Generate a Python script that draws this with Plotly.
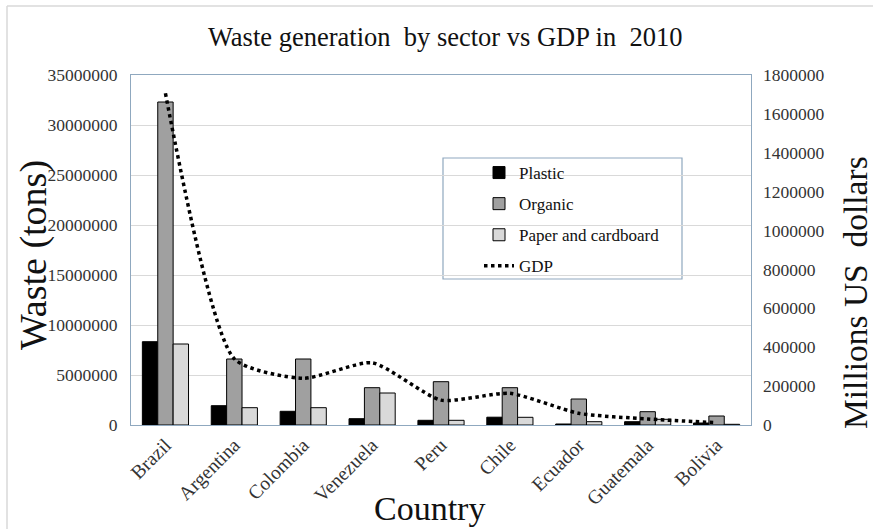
import plotly.graph_objects as go

countries = ["Brazil", "Argentina", "Colombia", "Venezuela", "Peru", "Chile", "Ecuador", "Guatemala", "Bolivia"]
plastic = [8330000, 1930000, 1370000, 630000, 470000, 780000, 100000, 330000, 200000]
organic = [32300000, 6600000, 6600000, 3730000, 4330000, 3730000, 2600000, 1330000, 900000]
paper = [8100000, 1730000, 1730000, 3200000, 470000, 770000, 330000, 570000, 70000]
gdp = [1706000, 340000, 240000, 320000, 128000, 163000, 60000, 31000, 12000]

W, H = 873, 529
L, R, T, B = 131, 122, 75, 104
PW, PH = W - L - R, H - T - B

def px(x):
    return (x - L) / PW

def py(y):
    return (H - B - y) / PH

SERIF = "Liberation Serif, Times New Roman, serif"

fig = go.Figure()
fig.add_trace(go.Bar(x=countries, y=plastic, name="Plastic", legendgroup="a",
                     marker=dict(color="#000000", line=dict(color="#000000", width=1))))
fig.add_trace(go.Bar(x=countries, y=organic, name="Organic", legendgroup="b",
                     marker=dict(color="#a0a0a0", line=dict(color="#000000", width=1))))
fig.add_trace(go.Bar(x=countries, y=paper, name="Paper and cardboard", legendgroup="c",
                     marker=dict(color="#d9d9d9", line=dict(color="#000000", width=1))))
fig.add_trace(go.Scatter(x=countries, y=gdp, name="GDP", yaxis="y2", mode="lines", legendgroup="d",
                         line=dict(color="#000000", width=3.5, dash="dot", shape="spline", smoothing=0.6)))

frame_color = "#8fa8bf"
title_font = dict(family=SERIF, color="#111111")
fig.update_layout(
    width=W, height=H,
    margin=dict(l=L, r=R, t=T, b=B, autoexpand=False),
    paper_bgcolor="white", plot_bgcolor="white",
    barmode="group", bargap=0.33, bargroupgap=0,
    font=dict(family=SERIF, color="#333333", size=17),
    title=dict(text="Waste generation  by sector vs GDP in  2010", x=0.51, xanchor="center",
               y=1 - 37 / H, yanchor="middle", font=dict(size=26.5, **title_font)),
    xaxis=dict(tickangle=-45, tickfont=dict(size=19.5, family=SERIF), showline=True, linecolor=frame_color,
               mirror=True, ticks="", automargin=False),
    yaxis=dict(range=[0, 35000000], dtick=5000000, tickformat="d", showgrid=True, gridcolor="#d9d9d9",
               showline=True, linecolor=frame_color, mirror=True, ticks="", zeroline=False, automargin=False,
               tickfont=dict(size=17.5, family=SERIF), ticklabelstandoff=9),
    yaxis2=dict(range=[0, 1800000], dtick=200000, tickformat="d", overlaying="y", side="right",
                showgrid=False, zeroline=False, showline=False, ticks="", automargin=False,
                tickfont=dict(size=17.5, family=SERIF), ticklabelstandoff=11),
    legend=dict(x=px(479), y=py(155), xanchor="left", yanchor="top", bgcolor="rgba(0,0,0,0)",
                borderwidth=0, font=dict(size=17, family=SERIF, color="#111111"), tracegroupgap=6),
    annotations=[
        dict(text="Country", xref="paper", yref="paper", x=px(429), y=py(508), xanchor="center",
             yanchor="middle", showarrow=False, font=dict(size=34, **title_font)),
        dict(text="Waste (tons)", xref="paper", yref="paper", x=px(34), y=py(255), xanchor="center",
             yanchor="middle", textangle=-90, showarrow=False, font=dict(size=38, **title_font)),
        dict(text="Millions US  dollars", xref="paper", yref="paper", x=px(855), y=py(293), xanchor="center",
             yanchor="middle", textangle=-90, showarrow=False, font=dict(size=33.5, **title_font)),
    ],
    shapes=[
        dict(type="rect", xref="paper", yref="paper", x0=px(443), x1=px(682), y0=py(279), y1=py(158),
             line=dict(color=frame_color, width=1.2), fillcolor="white", layer="below"),
        dict(type="line", xref="paper", yref="paper", x0=px(7), x1=px(W + 5), y0=py(6), y1=py(6),
             line=dict(color="#d9d9d9", width=1.5)),
        dict(type="line", xref="paper", yref="paper", x0=px(7), x1=px(7), y0=py(6), y1=py(H + 5),
             line=dict(color="#d9d9d9", width=1.5)),
    ],
)

fig.write_html("out.html", config={"displayModeBar": False},
               post_script="document.body.style.margin='0';document.body.style.overflow='hidden';")
